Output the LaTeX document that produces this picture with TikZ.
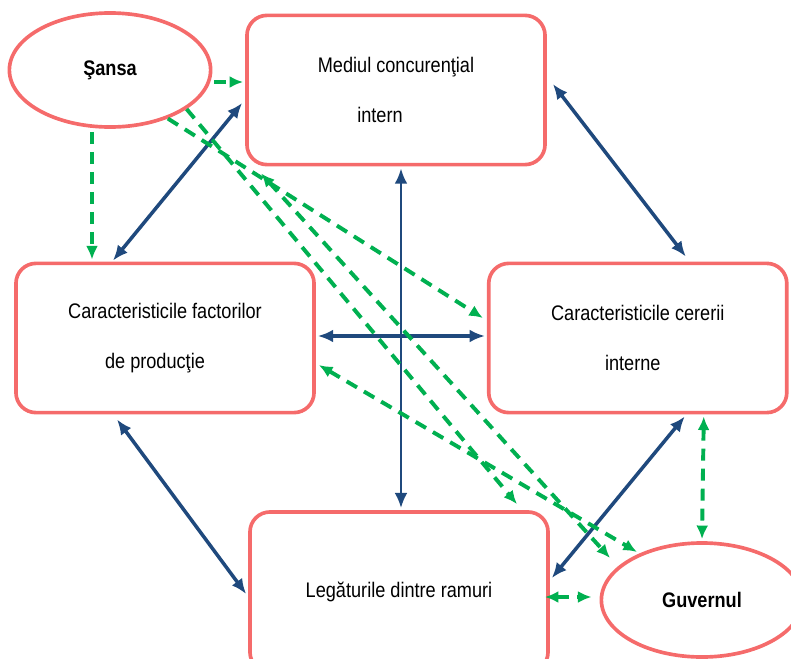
\documentclass[tikz,border=0pt]{standalone}
\usepackage{fontspec}
\setmainfont[FakeStretch=0.86]{Liberation Sans}
\usepackage{xcolor}
\usepackage{tikz}
\usetikzlibrary{calc,positioning,shapes.geometric,arrows.meta}
\definecolor{BoxRed}{HTML}{F56B6B}
\definecolor{LinkNavy}{HTML}{1F497D}
\definecolor{ChanceGreen}{HTML}{00B050}
\tikzset{
  factorbox/.style={draw=BoxRed, line width=2.6pt, rounded corners=0.5cm, minimum width=7.45cm, minimum height=3.73cm, align=center, font=\fontsize{15}{35.6}\selectfont},
  outerfactor/.style={ellipse, draw=BoxRed, line width=2.6pt, minimum width=5.03cm, minimum height=2.85cm, font=\bfseries\fontsize{15}{18}\selectfont},
  linkarrow/.style={{Latex[length=3.8mm,width=3.2mm]}-{Latex[length=3.8mm,width=3.2mm]}, LinkNavy, line width=2.5pt},
  influence/.style={-{Latex[length=3.4mm,width=3mm]}, ChanceGreen, line width=2.8pt, dash pattern=on 3mm off 2mm},
  mutual/.style={influence, {Latex[length=3.4mm,width=3mm]}-{Latex[length=3.4mm,width=3mm]}},
}

\begin{document}
\begin{tikzpicture}[x=0.025cm, y=-0.025cm]
        \useasboundingbox (0,0) rectangle (791,659);
        % the four determinants
        \node[factorbox] (med) at (396,90) {Mediul concurenţial\\intern\hspace*{0.8cm}};
        \node[factorbox] (fac) at (165,338) {Caracteristicile factorilor\\de producţie\hspace*{0.5cm}};
        \node[factorbox, right=4.275cm of fac] (cer) {Caracteristicile cererii\\interne\hspace*{0.25cm}};
        \node[factorbox, minimum height=4cm] (leg) at (399,592) {Legăturile dintre ramuri};
        % outside factors
        \node[outerfactor] (sansa) at (110,70) {Şansa};
        \node[outerfactor] (guv) at (702,600) {Guvernul};
        % links between determinants
        \draw[linkarrow] ($(med.west)+(-3,13)$) -- ($(fac.north)+(-52,-1)$);
        \draw[linkarrow] ($(med.east)+(6,-6)$) -- ($(cer.north)+(48,-5)$);
        \draw[linkarrow, line width=1.8pt] ($(med.south)+(5,2)$) -- ($(leg.north)+(2,-2)$);
        \draw[linkarrow] ($(fac.east)+(2,-2)$) -- ($(cer.west)+(-2,-2)$);
        \draw[linkarrow] ($(fac.south)+(-48,5)$) -- ($(leg.west)+(-2,2)$);
        \draw[linkarrow] ($(cer.south)+(47,2)$) -- ($(leg.east)+(2,-14)$);
        % chance
        \draw[influence] ($(sansa.east)+(2,12)$) -- ($(med.west)+(-2,-8)$);
        \draw[influence] ($(sansa.south)+(-18,3)$) -- ($(fac.north)+(-73,-2)$);
        \draw[influence] (sansa.-40) -- ($(cer.west)+(-4,-20)$);
        \draw[influence] (sansa.-27) -- ($(leg.north)+(118,-6)$);
        % government
        \draw[mutual] ($(med.south west)+(16,7)$) -- ($(guv.center)+(-92,-42)$);
        \draw[mutual] ($(fac.east)+(3,27)$) -- ($(guv.center)+(-65,-48)$);
        \draw[mutual] ($(cer.south)+(66,2)$) -- ($(guv.north)+(0,-2)$);
        \draw[mutual] ($(leg.east)+(-5,5)$) -- ($(guv.west)+(-8,-3)$);
    \end{tikzpicture}
\end{document}
